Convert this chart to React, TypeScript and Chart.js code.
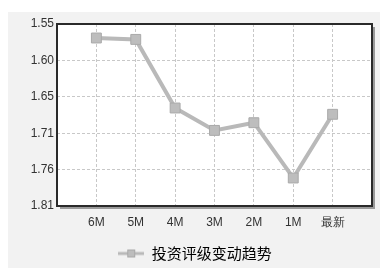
import React, { useEffect, useRef } from "react";
import { Chart, registerables } from "chart.js";

Chart.register(...registerables);

const categories = ["6M", "5M", "4M", "3M", "2M", "1M", "最新"];
const values = [1.57, 1.572, 1.67, 1.702, 1.691, 1.77, 1.679];
const yTicks = [1.55, 1.602, 1.654, 1.706, 1.758, 1.81];
const seriesName = "投资评级变动趋势";

const LINE_COLOR = "#b9b9b9";
const MARKER_FILL = "#bdbdbd";
const MARKER_BORDER = "#a9a9a9";

function makeLegendIcon(): HTMLCanvasElement {
  const c = document.createElement("canvas");
  c.width = 26;
  c.height = 12;
  const g = c.getContext("2d")!;
  g.strokeStyle = LINE_COLOR;
  g.lineWidth = 3;
  g.beginPath();
  g.moveTo(0, 6);
  g.lineTo(26, 6);
  g.stroke();
  g.fillStyle = MARKER_FILL;
  g.fillRect(9, 2, 8, 8);
  g.strokeStyle = MARKER_BORDER;
  g.lineWidth = 1;
  g.strokeRect(9.5, 2.5, 7, 7);
  return c;
}

const bgPlugin = {
  id: "bgPlugin",
  beforeDraw(chart: any) {
    const { ctx, chartArea } = chart;
    ctx.save();
    ctx.fillStyle = "#ffffff";
    ctx.fillRect(0, 0, chart.width, chart.height);
    ctx.fillStyle = "#f2f2f2";
    ctx.fillRect(8, 12, 372, 256);
    ctx.fillStyle = "#ffffff";
    ctx.fillRect(chartArea.left, chartArea.top, chartArea.right - chartArea.left, chartArea.bottom - chartArea.top);
    ctx.restore();
  },
  beforeDatasetsDraw(chart: any) {
    const { ctx, chartArea } = chart;
    const { left, top, right, bottom } = chartArea;
    ctx.save();
    ctx.strokeStyle = "#9a9a9a";
    ctx.lineWidth = 2;
    ctx.beginPath();
    ctx.moveTo(right + 2, top + 3);
    ctx.lineTo(right + 2, bottom + 2);
    ctx.lineTo(left + 3, bottom + 2);
    ctx.stroke();
    ctx.strokeStyle = "#2a2a2a";
    ctx.lineWidth = 2;
    ctx.strokeRect(left, top, right - left, bottom - top);
    ctx.restore();
  },
};

export default function App() {
  const ref = useRef<HTMLCanvasElement | null>(null);

  useEffect(() => {
    if (!ref.current) return;
    const icon = makeLegendIcon();
    const chart = new Chart(ref.current, {
      type: "line",
      data: {
        datasets: [
          {
            label: seriesName,
            data: values.map((v, i) => ({ x: i + 1, y: v })),
            borderColor: LINE_COLOR,
            borderWidth: 4,
            pointStyle: "rect",
            pointRadius: 7,
            pointBackgroundColor: MARKER_FILL,
            pointBorderColor: MARKER_BORDER,
            pointBorderWidth: 1,
            tension: 0,
          },
        ],
      },
      options: {
        responsive: false,
        animation: false,
        layout: { padding: { top: 24, right: 11, left: 18, bottom: 0 } },
        plugins: {
          tooltip: { enabled: false },
          legend: {
            position: "bottom",
            labels: {
              usePointStyle: true,
              pointStyleWidth: 26,
              padding: 10,
              color: "#222",
              font: { family: "'Noto Sans CJK SC'", size: 15 },
              generateLabels: () => [
                {
                  text: seriesName,
                  pointStyle: icon,
                  fillStyle: MARKER_FILL,
                  strokeStyle: LINE_COLOR,
                  lineWidth: 0,
                  hidden: false,
                  datasetIndex: 0,
                },
              ],
            },
          },
        },
        scales: {
          x: {
            type: "linear",
            min: 0,
            max: 8,
            afterBuildTicks: (scale: any) => {
              scale.ticks = categories.map((_, i) => ({ value: i + 1 }));
            },
            afterFit: (scale: any) => {
              scale.height = 30;
            },
            ticks: {
              autoSkip: false,
              maxRotation: 0,
              padding: 9,
              color: "#333",
              font: { family: "'Liberation Sans'", size: 12 },
              callback: (v: any) => categories[Math.round(Number(v)) - 1] ?? "",
            },
            grid: { color: "#c8c8c8", drawTicks: false },
            border: { display: false, dash: [3, 2] },
          },
          y: {
            type: "linear",
            reverse: true,
            min: yTicks[0],
            max: yTicks[yTicks.length - 1],
            afterBuildTicks: (scale: any) => {
              scale.ticks = yTicks.map((v) => ({ value: v }));
            },
            afterFit: (scale: any) => {
              scale.width = 39;
            },
            ticks: {
              padding: 3,
              color: "#333",
              font: { family: "'Liberation Sans'", size: 12 },
              callback: (v: any) => Number(v).toFixed(2),
            },
            grid: { color: "#c8c8c8", drawTicks: false },
            border: { display: false, dash: [3, 2] },
          },
        },
      },
      plugins: [bgPlugin],
    } as any);
    return () => chart.destroy();
  }, []);

  return (
    <div style={{ position: "absolute", left: 0, top: 0, width: 383, height: 271 }}>
      <canvas ref={ref} width={383} height={271} style={{ display: "block" }} />
    </div>
  );
}
